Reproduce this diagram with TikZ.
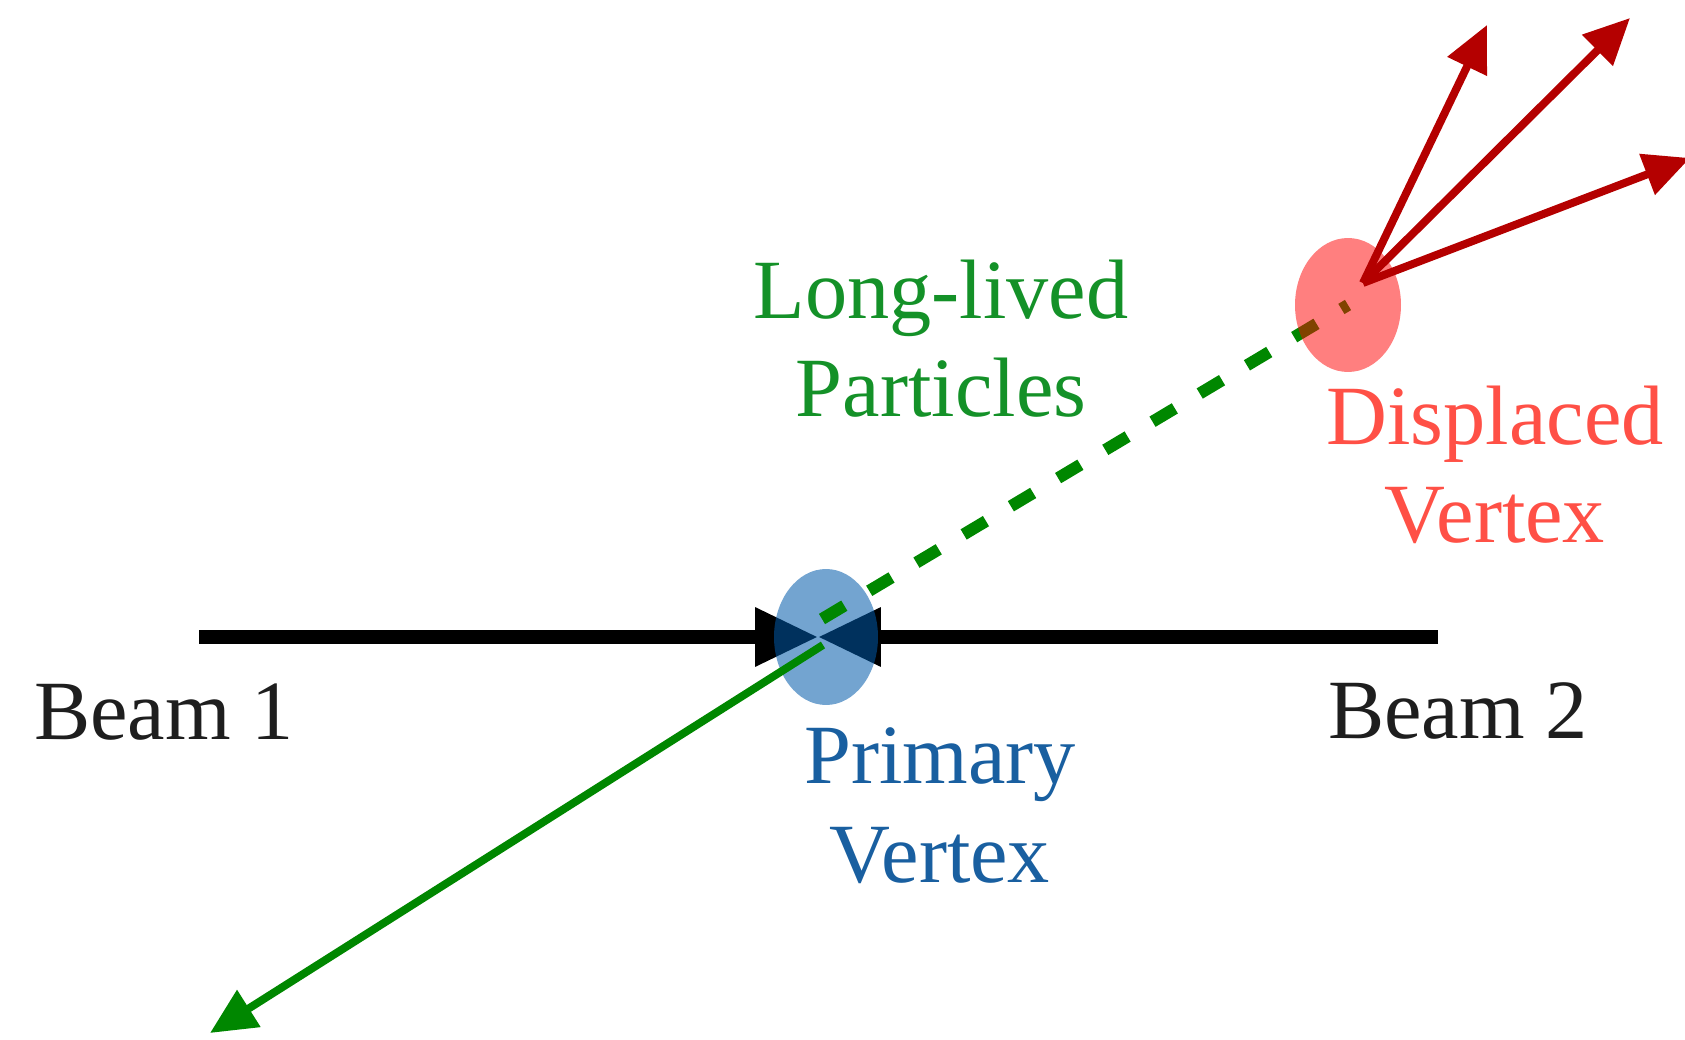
\documentclass[tikz,border=0pt]{standalone}
\usepackage{fontspec}
\setmainfont{Liberation Serif}
\definecolor{pvblue}{RGB}{0,90,170}
\definecolor{pvtext}{RGB}{25,95,160}
\definecolor{dvred}{RGB}{255,0,0}
\definecolor{dvtext}{RGB}{255,80,70}
\definecolor{trkred}{RGB}{180,0,0}
\definecolor{llpgreen}{RGB}{0,135,0}
\definecolor{llptext}{RGB}{20,145,40}
\definecolor{beamtext}{RGB}{30,30,30}
\usetikzlibrary{arrows.meta,positioning,shapes.geometric}

\begin{document}
\begin{tikzpicture}[x=0.02cm, y=-0.02cm,
    vtx/.style={ellipse, minimum width=2.08cm, minimum height=2.72cm, inner sep=0pt},
    lbl/.style={font=\fontsize{48}{56}\selectfont, align=center, anchor=base, inner sep=0pt},
    beamarrow/.style={line width=7.4pt, -{Triangle[length=1.26cm, width=1.12cm]}},
    trk/.style={line width=4.5pt, -{Triangle[length=0.92cm, width=0.84cm]}}]
  \useasboundingbox (0,0) rectangle (1685,1040);

  % Beams meeting at the interaction point
  \coordinate (ip) at (818,637);
  \coordinate (b1) at (199,637);
  \coordinate (b2) at (1438,637);
  \draw[beamarrow] (b1) -- (ip);
  \draw[beamarrow] (b2) -- (ip);

  % Primary vertex
  \node[vtx, fill=pvblue, fill opacity=0.55] (pv) at (826,637) {};

  % Long-lived particle and its partner
  \coordinate (llp0) at (822,619);
  \coordinate (sp0) at (823,645);
  \coordinate (sp1) at (210,1033);
  \node[vtx] (dv) at (1348,305) {};
  \draw[llpgreen, line width=6.8pt, dash pattern=on 0.52cm off 0.58cm] (llp0) -- (dv.center);
  \draw[trk, llpgreen] (sp0) -- (sp1);

  % Displaced vertex
  \fill[dvred, fill opacity=0.5] (dv.center) ellipse (1.06cm and 1.34cm);

  % Decay products
  \coordinate (dk) at (1363,283);
  \coordinate (d1) at (1487,25);
  \coordinate (d2) at (1630,18);
  \coordinate (d3) at (1690,158);
  \foreach \t in {d1,d2,d3}
    \draw[trk, trkred] (dk) -- (\t);

  % Labels (base = last line)
  \node[lbl, text=llptext] (llplbl) at (941,417) {Long-lived\\Particles};
  \node[lbl, text=dvtext] (dvlbl) at (1495,543) {Displaced\\Vertex};
  \node[lbl, text=pvtext] (pvlbl) at (940,882) {Primary\\Vertex};
  \node[lbl, text=beamtext] (b1lbl) at (164,739) {Beam 1};
  \node[lbl, text=beamtext] (b2lbl) at (1458,738) {Beam 2};
\end{tikzpicture}
\end{document}
